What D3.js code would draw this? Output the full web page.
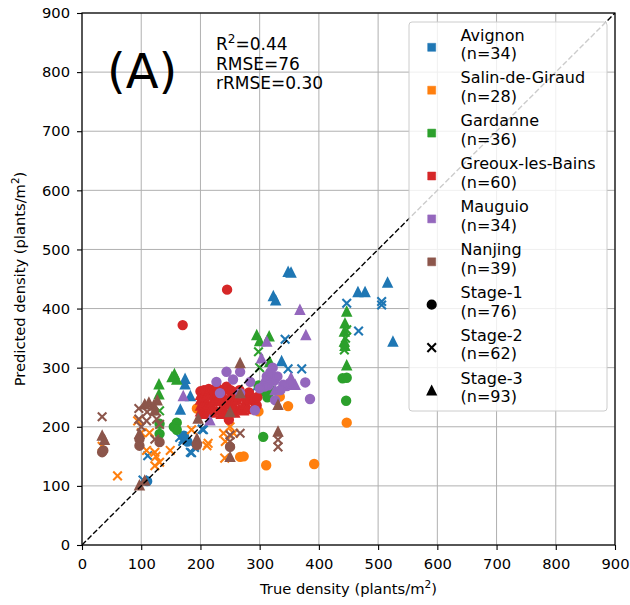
<!DOCTYPE html>
<html><head><meta charset="utf-8">
<script src="https://cdn.jsdelivr.net/npm/d3@7"></script>
<style>
body{margin:0;background:#fff}
svg{display:block}
text{font-family:"DejaVu Sans",sans-serif;fill:#000}
</style>
</head><body>
<svg id="chart" width="630" height="605"></svg>
<script>
// ---------------- data ----------------
const sites = ["Avignon","Salin-de-Giraud","Gardanne","Greoux-les-Bains","Mauguio","Nanjing"];
const siteCounts = [34,28,36,60,34,39];
const stageNames = ["Stage-1","Stage-2","Stage-3"];
const stageCounts = [76,62,93];
const siteColors = ["#1f77b4","#ff7f0e","#2ca02c","#d62728","#9467bd","#8c564b"];
const tickValues = [0,100,200,300,400,500,600,700,800,900];
const statLines = ["R\u00b2=0.44","RMSE=76","rRMSE=0.30"];
const panelLabel = "(A)";

// [true density, predicted density, stage]
const avignon = [
 [348,462,3],[353,461,3],[323,421,3],[327,414,3],[466,428,3],[478,428,3],[516,444,3],[525,344,3],[337,311,3],[174,281,3],[174,272,3],[183,252,3],[166,229,3],
 [447,409,2],[506,406,2],[506,412,2],[467,362,2],[343,348,2],[348,298,2],[371,298,2],[295,268,2],[205,195,2],[185,156,2],[111,151,2],[171,179,2],[183,157,2],[203,196,2],[103,110,2],[165,182,2],[170,175,2],[190,165,2],
 [172,185,1],[178,175,1],[110,108,1]
];
const salin = [
 [447,207,1],[334,251,1],[348,235,1],[311,135,1],[392,137,1],[267,149,1],[273,150,1],[194,231,1],[298,226,1],
 [239,189,2],[256,189,2],[213,172,2],[250,200,2],[185,195,2],[94,210,2],[114,190,2],[109,160,2],[123,157,2],[149,160,2],[123,134,2],[131,140,2],[60,117,2],[34,167,2],[211,168,2],[241,147,2],[125,150,2],[242,175,2],[100,190,2]
];
const gardanne = [
 [447,395,3],[444,375,3],[443,361,3],[443,344,3],[444,337,3],[447,304,3],[295,355,3],[316,353,3],[317,310,3],[130,272,3],[130,255,3],[156,289,3],[160,280,3],[152,284,3],[300,345,3],
 [447,364,2],[443,330,2],[298,327,2],[131,227,2],[445,350,2],[300,300,2],
 [440,282,1],[446,244,1],[306,183,1],[309,259,1],[317,259,1],[320,262,1],[160,207,1],[131,188,1],[155,200,1],[131,205,1],[313,250,1],[298,270,1],[160,195,1],[447,283,1],[225,255,1]
];
const greoux = [
 [245,432,1],[170,372,1],
 [200,226,3],[200,236,3],[200,246,3],[200,254,3],[200,260,1],
 [206,222,3],[206,232,2],[207,242,3],[206,252,3],[206,262,1],
 [213,226,3],[213,238,3],[214,248,2],[213,256,3],[214,264,1],
 [220,224,3],[220,234,3],[221,244,3],[220,254,3],[221,262,1],
 [227,228,3],[228,240,2],[227,250,3],[228,258,3],[228,266,1],
 [235,222,3],[235,232,3],[236,244,3],[235,254,3],[236,262,1],
 [242,226,3],[243,238,3],[242,248,3],[243,258,2],[244,268,1],
 [250,228,3],[251,240,3],[250,252,3],[251,262,1],
 [258,224,3],[258,234,3],[259,246,3],[258,258,1],
 [265,230,3],[266,242,2],[265,252,3],[266,262,1],
 [273,228,3],[273,238,3],[274,250,1],
 [280,234,3],[281,246,1],[282,258,1],
 [288,230,3],[289,244,1],[295,236,1],[296,250,1],[248,212,1]
];
const mauguio = [
 [312,344,3],[378,355,3],[303,316,3],[368,398,3],[353,283,3],[360,271,3],[306,276,3],[216,211,3],[171,252,3],[326,262,3],
 [346,269,1],[377,275,1],[385,247,1],[244,293,1],[267,293,1],[284,276,1],[233,257,1],[326,245,1],[320,282,1],[351,274,1],[292,228,1],[340,271,1],[227,276,1],[267,257,1],[312,285,1],[318,292,1],[325,278,1],[315,270,1],[330,285,1],[322,300,1],[308,268,1],[255,280,1],[300,265,1],[335,262,1]
];
const nanjing = [
 [267,308,3],[331,237,3],[250,225,3],[267,257,3],[196,214,3],[331,192,3],[250,149,3],[194,180,3],[34,185,3],[106,238,3],[113,241,3],[121,236,3],[127,245,3],[97,188,3],[106,109,3],[97,101,3],[38,178,3],[123,228,3],
 [331,178,2],[331,166,2],[267,189,2],[250,186,2],[250,175,2],[34,217,2],[96,231,2],[96,213,2],[109,210,2],[126,213,2],[131,204,2],[123,179,2],[110,225,2],[100,200,2],
 [250,166,1],[194,169,1],[34,157,1],[97,179,1],[97,168,1],[131,174,1],[36,160,1]
];
const siteData = [avignon, salin, gardanne, greoux, mauguio, nanjing];

// ---------------- layout ----------------
const svg = d3.select("#chart");
const x = d3.scaleLinear().domain([0,900]).range([82,615]);
const y = d3.scaleLinear().domain([0,900]).range([545,13]);
const MS = 8.6;

function markerPath(stage, m){
  const h = m/2;
  if (stage === 1) return `M${h},0A${h},${h} 0 1,1 ${-h},0A${h},${h} 0 1,1 ${h},0Z`;
  if (stage === 3) return `M0,${-h}L${-h},${h}L${h},${h}Z`;
  return `M${-h},${-h}L${h},${h}M${-h},${h}L${h},${-h}`;
}

// clip
svg.append("defs").append("clipPath").attr("id","plotclip")
  .append("rect").attr("x",x(0)).attr("y",y(900)).attr("width",x(900)-x(0)).attr("height",y(0)-y(900));

// grid
const grid = svg.append("g").attr("stroke","#b0b0b0").attr("stroke-width",1);
grid.selectAll("line.v").data(tickValues).join("line").attr("class","v")
  .attr("x1",d=>x(d)).attr("x2",d=>x(d)).attr("y1",y(0)).attr("y2",y(900));
grid.selectAll("line.h").data(tickValues).join("line").attr("class","h")
  .attr("y1",d=>y(d)).attr("y2",d=>y(d)).attr("x1",x(0)).attr("x2",x(900));

// scatter
const plot = svg.append("g").attr("clip-path","url(#plotclip)");
siteData.forEach((data,i)=>{
  const col = siteColors[i];
  plot.append("g").selectAll("path").data(data).join("path")
    .attr("transform",d=>`translate(${x(d[0])},${y(d[1])})`)
    .attr("d",d=>markerPath(d[2],MS))
    .attr("fill",d=>d[2]===2?"none":col)
    .attr("stroke",col)
    .attr("stroke-width",d=>d[2]===2?2.1:1.8);
});

// 1:1 line
plot.append("line")
  .attr("x1",x(0)).attr("y1",y(0)).attr("x2",x(900)).attr("y2",y(900))
  .attr("stroke","#000").attr("stroke-width",1.4).attr("stroke-dasharray","5.5,2.4");

// axes
const xAxis = svg.append("g").attr("transform",`translate(0,${y(0)})`)
  .call(d3.axisBottom(x).tickValues(tickValues).tickSize(5).tickPadding(8.5).tickFormat(d3.format("d")));
const yAxis = svg.append("g").attr("transform",`translate(${x(0)},0)`)
  .call(d3.axisLeft(y).tickValues(tickValues).tickSize(5).tickPadding(7).tickFormat(d3.format("d")));
[xAxis,yAxis].forEach(a=>{
  a.select(".domain").remove();
  a.selectAll(".tick line").attr("stroke","#000").attr("stroke-width",1.1);
  a.selectAll(".tick text").attr("font-family","DejaVu Sans").attr("font-size","14.7px").attr("fill","#262626");
});
// spines
svg.append("rect").attr("x",x(0)).attr("y",y(900)).attr("width",x(900)-x(0)).attr("height",y(0)-y(900))
  .attr("fill","none").attr("stroke","#000").attr("stroke-width",1.2);

// axis labels
const xl = svg.append("text").attr("x",(x(0)+x(900))/2).attr("y",594).attr("text-anchor","middle")
  .attr("font-size","14.7px").attr("fill","#262626");
xl.append("tspan").text("True density (plants/m");
xl.append("tspan").attr("font-size","10.5px").attr("dy","-6").text("2");
xl.append("tspan").attr("dy","6").text(")");

const yl = svg.append("text").attr("transform",`translate(25,${(y(0)+y(900))/2}) rotate(-90)`)
  .attr("text-anchor","middle").attr("font-size","14.7px").attr("fill","#262626");
yl.append("tspan").text("Predicted density (plants/m");
yl.append("tspan").attr("font-size","10.5px").attr("dy","-6").text("2");
yl.append("tspan").attr("dy","6").text(")");

// panel label and stats
svg.append("text").attr("x",107).attr("y",88).attr("font-size","48px").text(panelLabel);
const st = svg.append("g");
statLines.forEach((s,i)=>{
  const t = st.append("text").attr("x",216).attr("y",50+i*19.5).attr("font-size","17px");
  if (s.indexOf("\u00b2")>=0){
    const parts = s.split("\u00b2");
    t.append("tspan").text(parts[0]);
    t.append("tspan").attr("font-size","12px").attr("dy","-7").text("2");
    t.append("tspan").attr("dy","7").text(parts[1]);
  } else t.text(s);
});

// legend
const lg = svg.append("g");
lg.append("rect").attr("x",409).attr("y",22).attr("width",198).attr("height",389).attr("rx",3)
  .attr("fill","#fff").attr("fill-opacity",0.8).attr("stroke","#cccccc").attr("stroke-width",1);
const entries = sites.map((s,i)=>({name:s,n:siteCounts[i],color:siteColors[i],kind:"site"}))
  .concat(stageNames.map((s,i)=>({name:s,n:stageCounts[i],color:"#000",kind:i+1})));
const le = lg.selectAll("g.e").data(entries).join("g").attr("class","e")
  .attr("transform",(d,i)=>`translate(0,${47.3+42.9*i})`);
le.append("path")
  .attr("transform","translate(431.7,0)")
  .attr("d",d=>d.kind==="site" ? "M-4,-4H4V4H-4Z" : markerPath(d.kind,MS))
  .attr("fill",d=>d.kind===2?"none":d.color)
  .attr("stroke",d=>d.color)
  .attr("stroke-width",d=>d.kind==="site"?0.5:(d.kind===2?2.1:1.6));
le.append("text").attr("x",460.5).attr("y",-6.8).attr("font-size","16px").text(d=>d.name);
le.append("text").attr("x",460.5).attr("y",11.8).attr("font-size","16px").text(d=>`(n=${d.n})`);
</script>
</body></html>
